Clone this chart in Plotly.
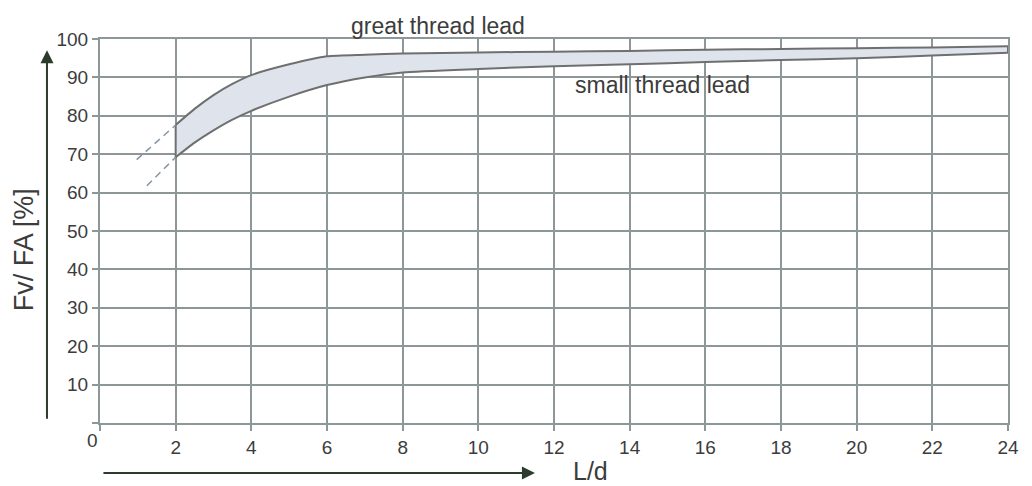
import plotly.graph_objects as go

# Data
ld = [2, 2.5, 3, 3.5, 4, 5, 6, 7, 8, 10, 12, 14, 16, 18, 20, 22, 24]
great_lead = [77.6, 81.8, 85.4, 88.3, 90.6, 93.4, 95.5, 95.9, 96.2, 96.5, 96.7, 96.9, 97.2, 97.4, 97.6, 97.8, 98.1]
small_lead = [69.2, 73.0, 76.2, 79.0, 81.3, 85.0, 88.0, 90.0, 91.3, 92.2, 92.9, 93.4, 94.0, 94.5, 95.0, 95.7, 96.4]

dash_hi_x = [0.97, 2.0]
dash_hi_y = [68.6, 77.6]
dash_lo_x = [1.24, 2.0]
dash_lo_y = [61.8, 69.2]

x_ticks = [0, 2, 4, 6, 8, 10, 12, 14, 16, 18, 20, 22, 24]
y_ticks = [0, 10, 20, 30, 40, 50, 60, 70, 80, 90, 100]

FONT = "Liberation Sans, Arial, sans-serif"
GRID = "#8e9797"
EDGE = "#6e7070"
FILL = "#dfe4ec"
TXT = "#3c3c3c"

fig = go.Figure()

fig.add_trace(go.Scatter(x=ld, y=small_lead, mode="lines",
                         line=dict(color=EDGE, width=2, shape="spline", smoothing=0.6),
                         hoverinfo="skip", showlegend=False))
fig.add_trace(go.Scatter(x=ld, y=great_lead, mode="lines", fill="tonexty", fillcolor=FILL,
                         line=dict(color=EDGE, width=2, shape="spline", smoothing=0.6),
                         hoverinfo="skip", showlegend=False))
fig.add_trace(go.Scatter(x=[ld[0], ld[0]], y=[small_lead[0], great_lead[0]], mode="lines",
                         line=dict(color=EDGE, width=2), hoverinfo="skip", showlegend=False))
fig.add_trace(go.Scatter(x=[ld[-1], ld[-1]], y=[small_lead[-1], great_lead[-1]], mode="lines",
                         line=dict(color=EDGE, width=2), hoverinfo="skip", showlegend=False))
fig.add_trace(go.Scatter(x=dash_hi_x, y=dash_hi_y, mode="lines",
                         line=dict(color="#8494a4", width=1.5, dash="7px,5px"),
                         hoverinfo="skip", showlegend=False))
fig.add_trace(go.Scatter(x=dash_lo_x, y=dash_lo_y, mode="lines",
                         line=dict(color="#8494a4", width=1.5, dash="7px,5px"),
                         hoverinfo="skip", showlegend=False))

# The page body has an 8px margin, so the figure is 8px smaller than the window
fig.update_layout(
    width=1024, height=478,
    margin=dict(l=92, r=24, t=31, b=63, autoexpand=False),
    paper_bgcolor="white", plot_bgcolor="white",
    font=dict(family=FONT, color=TXT),
    xaxis=dict(range=[0, 24], tickvals=x_ticks,
               ticktext=["" if v == 0 else str(v) for v in x_ticks],
               showgrid=True, gridcolor=GRID, gridwidth=1.5,
               showline=True, linecolor=GRID, linewidth=2, mirror=True,
               ticks="outside", ticklen=6, tickcolor=GRID, tickwidth=1.5,
               zeroline=False, tickfont=dict(size=19, color=TXT),
               automargin=False),
    yaxis=dict(range=[0, 100], tickvals=y_ticks,
               ticktext=["" if v == 0 else str(v) for v in y_ticks],
               showgrid=True, gridcolor=GRID, gridwidth=1.5,
               showline=True, linecolor=GRID, linewidth=2, mirror=True,
               ticks="outside", ticklen=6, tickcolor=GRID, tickwidth=1.5,
               zeroline=False, tickfont=dict(size=19, color=TXT),
               automargin=False),
    annotations=[
        dict(x=0, y=0, xref="x", yref="y", text="0", showarrow=False,
             xshift=-8, yshift=-17, font=dict(size=19, color=TXT)),
        dict(x=0.372, y=1.034, xref="paper", yref="paper", text="great thread lead",
             showarrow=False, xanchor="center", yanchor="middle",
             font=dict(size=23, color=TXT)),
        dict(x=14.88, y=88.0, xref="x", yref="y", text="small thread lead",
             showarrow=False, xanchor="center", yanchor="middle",
             font=dict(size=23, color=TXT)),
        dict(x=0.54, y=-0.125, xref="paper", yref="paper", text="L/d",
             showarrow=False, xanchor="center", yanchor="middle",
             font=dict(size=25, color=TXT)),
        dict(x=-0.0837, y=0.45, xref="paper", yref="paper", text="Fv/ FA [%]",
             showarrow=False, textangle=-90, xanchor="center", yanchor="middle",
             font=dict(size=27, color=TXT)),
        # vertical arrow
        dict(x=-0.0584, y=0.971, xref="paper", yref="paper", text="",
             showarrow=True, ax=0, ay=370, axref="pixel", ayref="pixel",
             arrowhead=2, arrowsize=1.3, arrowwidth=2, arrowcolor="#2d3b2d"),
        # horizontal arrow
        dict(x=0.479, y=-0.130, xref="paper", yref="paper", text="",
             showarrow=True, ax=-433, ay=0, axref="pixel", ayref="pixel",
             arrowhead=2, arrowsize=1.3, arrowwidth=2, arrowcolor="#2d3b2d"),
    ],
)

fig.write_html("out.html")
